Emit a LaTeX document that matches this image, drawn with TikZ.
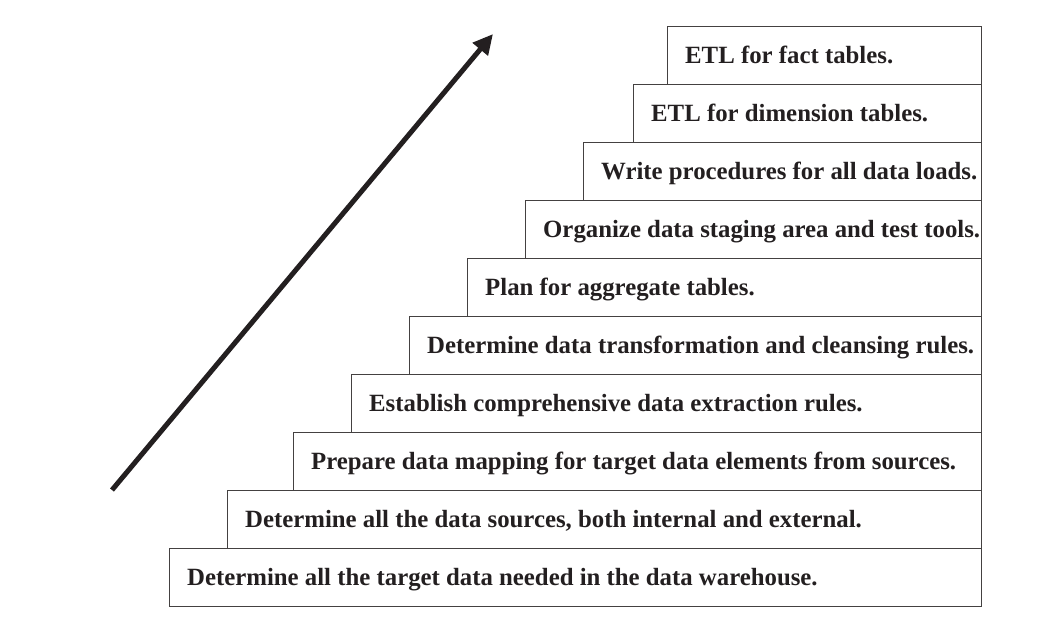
\documentclass[tikz,border=0pt]{standalone}
\usepackage{fontspec}
\setmainfont{Liberation Serif}
\usetikzlibrary{arrows.meta,calc}
\definecolor{ink}{HTML}{231F20}
\begin{document}
\begin{tikzpicture}[x=1pt,y=-1pt,
  stepbox/.style={draw=ink!85,line width=1.1pt,rectangle,inner sep=0pt,anchor=north west,minimum height=58pt},
  steptext/.style={anchor=base west,inner sep=0pt,text=ink,font=\fontsize{24.8}{28}\selectfont\bfseries},
  bigarrow/.style={draw=ink,line width=5pt,-{Triangle[length=20pt,width=19pt]}}]
\useasboundingbox (0,0) rectangle (1053,625);
\foreach \name/\lx/\ty/\txt in {
  s1/169/548/{Determine all the target data needed in the data warehouse.},
  s2/227/490/{Determine all the data sources, both internal and external.},
  s3/293/432/{Prepare data mapping for target data elements from sources.},
  s4/351/374/{Establish comprehensive data extraction rules.},
  s5/409/316/{Determine data transformation and cleansing rules.},
  s6/467/258/{Plan for aggregate tables.},
  s7/525/200/{Organize data staging area and test tools.},
  s8/583/142/{Write procedures for all data loads.},
  s9/633/84/{ETL for dimension tables.},
  s10/667/26/{ETL for fact tables.}}
{
  \pgfmathsetmacro{\w}{981-\lx}
  \node[stepbox,minimum width=\w pt] (\name) at (\lx,\ty) {};
  \node[steptext] (\name t) at ($(\name.west)+(18,8)$) {\txt};
}
\coordinate (a0) at (112,490);
\coordinate (a1) at (493,34);
\draw[bigarrow] (a0) -- (a1);
\end{tikzpicture}
\end{document}
